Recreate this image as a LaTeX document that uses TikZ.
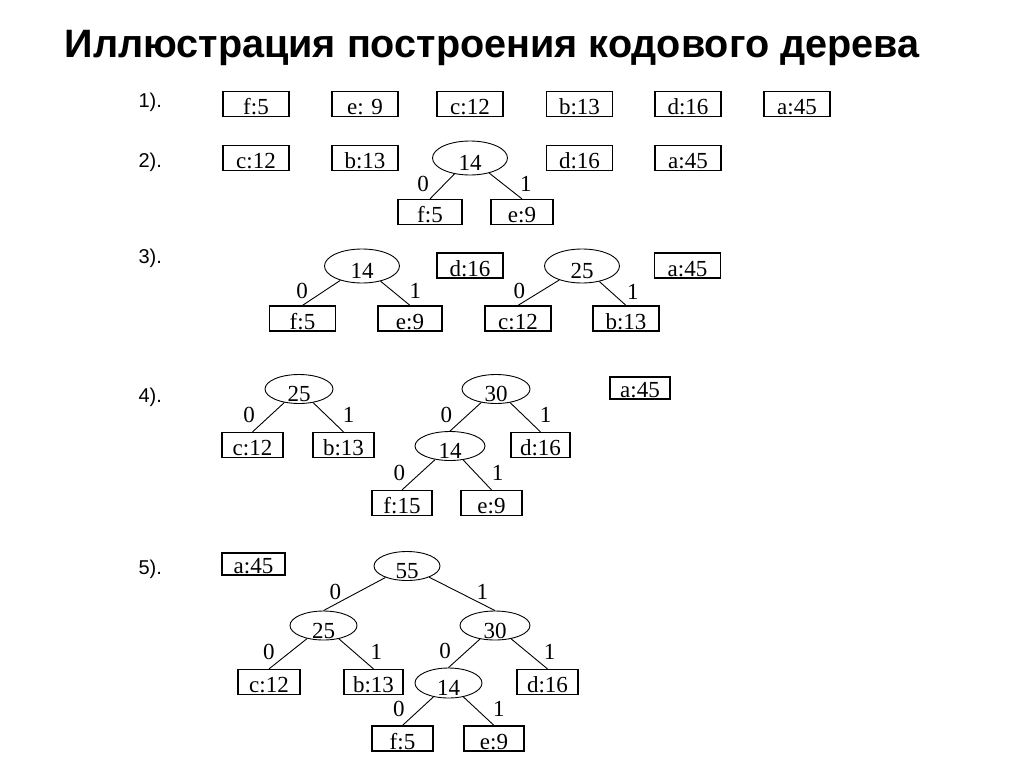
\documentclass[tikz,border=0pt]{standalone}
\usepackage{fontspec}
\setmainfont{Liberation Serif}
\newfontfamily\headfont{Liberation Sans}
\usetikzlibrary{shapes.geometric,positioning}
\newcommand{\low}[1]{\raisebox{-5pt}{#1}}

\begin{document}
\begin{tikzpicture}[x=1pt, y=-1pt,
    leaf/.style={draw, line width=1.2pt, minimum width=66pt, inner sep=0pt,
                 text height=23pt, text depth=2pt, font=\fontsize{23}{23}\selectfont},
    small/.style={leaf, text height=20.5pt, text depth=1.5pt},
    sum/.style={draw, ellipse, line width=0.9pt, minimum width=75pt, minimum height=34pt,
                inner sep=0pt, text height=15pt, text depth=0pt,
                font=\fontsize{23}{23}\selectfont},
    sumb/.style={sum, minimum width=68pt, minimum height=29pt},
    bit/.style={font=\fontsize{23}{23}\selectfont, inner sep=0pt},
    edge/.style={line width=0.9pt},
    steplbl/.style={anchor=west, font=\headfont\fontsize{20}{20}\selectfont}
]
\useasboundingbox (0,0) rectangle (1024,768);

% Title
\node[anchor=base west, font=\headfont\bfseries\fontsize{39.6}{39.6}\selectfont] (title)
    at (61,57) {Иллюстрация построения кодового дерева};

% Step labels
\node[steplbl] (st1) at (135,102) {1).};
\node[steplbl] (st2) at (135,162) {2).};
\node[steplbl] (st3) at (135,258) {3).};
\node[steplbl] (st4) at (135,397) {4).};
\node[steplbl] (st5) at (135,569) {5).};

% Step 1
\node[leaf] (a1f) at (256,104) {f:5};
\node[leaf] (a1e) at (365,104) {e: 9};
\node[leaf] (a1c) at (470,104) {c:12};
\node[leaf] (a1b) at (579.5,104) {b:13};
\node[leaf] (a1d) at (688,104) {d:16};
\node[leaf] (a1a) at (797,104) {a:45};

% Step 2
\node[leaf] (a2c) at (256,158) {c:12};
\node[leaf] (a2b) at (365,158) {b:13};
\node[sum] (a2n14) at (470,158) {\low{14}};
\node[leaf] (a2d) at (579.5,158) {d:16};
\node[leaf] (a2a) at (688,158) {a:45};
\node[leaf, minimum width=64pt] (a2f) at (430,212) {f:5};
\node[leaf, minimum width=62pt] (a2e) at (522,212) {e:9};

% Step 3
\node[sum] (a3n14) at (362,266) {\low{14}};
\node[leaf] (a3d) at (470,265.5) {d:16};
\node[sum] (a3n25) at (582,266) {\low{25}};
\node[leaf] (a3a) at (687.5,265.5) {a:45};
\node[leaf] (a3f) at (302.5,318.5) {f:5};
\node[leaf, minimum width=64pt] (a3e) at (410,318.5) {e:9};
\node[leaf] (a3c) at (518,318.5) {c:12};
\node[leaf] (a3b) at (626,318.5) {b:13};

% Step 4
\node[sumb] (a4n25) at (299,389) {\low{25}};
\node[sumb] (a4n30) at (496,389) {\low{30}};
\node[small, minimum width=60pt] (a4a) at (640,388) {a:45};
\node[leaf, minimum width=61pt] (a4c) at (252.5,445) {c:12};
\node[leaf, minimum width=61pt] (a4b) at (343.5,445) {b:13};
\node[sumb, minimum width=70pt] (a4n14) at (450,446) {\low{14}};
\node[leaf, minimum width=59pt] (a4d) at (540.5,445) {d:16};
\node[leaf, minimum width=60pt] (a4f) at (402,503) {f:15};
\node[leaf, minimum width=61pt] (a4e) at (491.5,503) {e:9};

% Step 5
\node[small, minimum width=63pt] (a5a) at (253.5,564) {a:45};
\node[sumb, minimum width=66pt] (a5n55) at (407,566) {\low{55}};
\node[sumb, minimum width=67pt] (a5n25) at (323.5,625.5) {\low{25}};
\node[sumb, minimum width=70pt] (a5n30) at (495,625.5) {\low{30}};
\node[leaf, minimum width=62pt] (a5c) at (269,682) {c:12};
\node[leaf, minimum width=59pt] (a5b) at (373.5,682) {b:13};
\node[sumb, minimum width=67pt, minimum height=30pt] (a5n14) at (448.5,683) {\low{14}};
\node[leaf, minimum width=61pt] (a5d) at (547.5,682) {d:16};
\node[leaf, minimum width=61pt] (a5f) at (402.5,738.5) {f:5};
\node[leaf, minimum width=60pt] (a5e) at (494,738.5) {e:9};

% Edges
\foreach \p/\l/\r in {a2n14/a2f/a2e, a3n14/a3f/a3e, a3n25/a3c/a3b,
                     a4n25/a4c/a4b, a4n30/a4n14/a4d, a4n14/a4f/a4e,
                     a5n55/a5n25/a5n30, a5n25/a5c/a5b, a5n30/a5n14/a5d, a5n14/a5f/a5e} {
  \draw[edge] (\p) -- (\l.north) node[bit, midway, left=13pt, yshift=2pt] {0};
  \draw[edge] (\p) -- (\r.north) node[bit, midway, right=14pt, yshift=2pt] {1};
}

\end{tikzpicture}
\end{document}
